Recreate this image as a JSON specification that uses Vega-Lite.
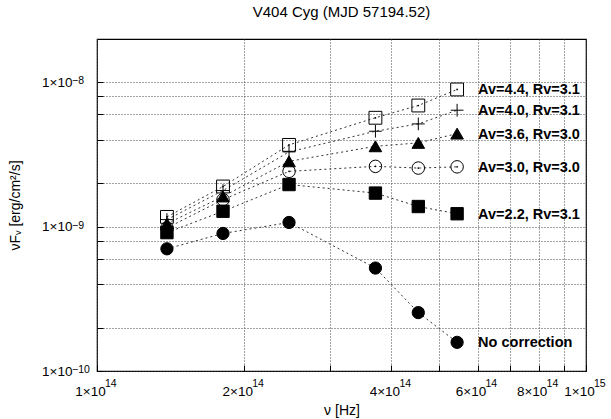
{
  "$schema": "https://vega.github.io/schema/vega-lite/v6.json",
  "width": 489,
  "height": 332,
  "autosize": "none",
  "padding": {"left": 97, "top": 39, "right": 25, "bottom": 48},
  "background": "white",
  "title": {"text": "V404 Cyg (MJD 57194.52)", "font": "Liberation Sans", "fontSize": 15, "fontWeight": "normal", "color": "black", "offset": 19, "anchor": "middle"},
  "config": {
    "view": {"stroke": "black", "strokeWidth": 1.2},
    "axis": {"labelFont": "Liberation Sans", "titleFont": "Liberation Sans", "labelFontSize": 13.5, "titleFontSize": 14, "titleFontWeight": "normal", "labelColor": "black", "titleColor": "black", "domain": false, "tickColor": "black", "gridColor": "#444", "gridDash": [1, 2], "gridWidth": 1, "gridOpacity": 1}
  },
  "datasets": {
    "pts": [
      {"series": "No correction", "nu": 1.39e14, "f": 7.03e-10},
      {"series": "No correction", "nu": 1.81e14, "f": 8.98e-10},
      {"series": "No correction", "nu": 2.47e14, "f": 1.07e-9},
      {"series": "No correction", "nu": 3.71e14, "f": 5.17e-10},
      {"series": "No correction", "nu": 4.54e14, "f": 2.54e-10},
      {"series": "No correction", "nu": 5.45e14, "f": 1.58e-10},
      {"series": "Av=2.2, Rv=3.1", "nu": 1.39e14, "f": 9.1e-10},
      {"series": "Av=2.2, Rv=3.1", "nu": 1.81e14, "f": 1.28e-9},
      {"series": "Av=2.2, Rv=3.1", "nu": 2.47e14, "f": 1.96e-9},
      {"series": "Av=2.2, Rv=3.1", "nu": 3.71e14, "f": 1.71e-9},
      {"series": "Av=2.2, Rv=3.1", "nu": 4.54e14, "f": 1.38e-9},
      {"series": "Av=2.2, Rv=3.1", "nu": 5.45e14, "f": 1.23e-9},
      {"series": "Av=3.0, Rv=3.0", "nu": 1.39e14, "f": 9.8e-10},
      {"series": "Av=3.0, Rv=3.0", "nu": 1.81e14, "f": 1.54e-9},
      {"series": "Av=3.0, Rv=3.0", "nu": 2.47e14, "f": 2.42e-9},
      {"series": "Av=3.0, Rv=3.0", "nu": 3.71e14, "f": 2.62e-9},
      {"series": "Av=3.0, Rv=3.0", "nu": 4.54e14, "f": 2.55e-9},
      {"series": "Av=3.0, Rv=3.0", "nu": 5.45e14, "f": 2.6e-9},
      {"series": "Av=3.6, Rv=3.0", "nu": 1.39e14, "f": 1.05e-9},
      {"series": "Av=3.6, Rv=3.0", "nu": 1.81e14, "f": 1.62e-9},
      {"series": "Av=3.6, Rv=3.0", "nu": 2.47e14, "f": 2.84e-9},
      {"series": "Av=3.6, Rv=3.0", "nu": 3.71e14, "f": 3.61e-9},
      {"series": "Av=3.6, Rv=3.0", "nu": 4.54e14, "f": 3.81e-9},
      {"series": "Av=3.6, Rv=3.0", "nu": 5.45e14, "f": 4.42e-9},
      {"series": "Av=4.0, Rv=3.1", "nu": 1.39e14, "f": 1.12e-9},
      {"series": "Av=4.0, Rv=3.1", "nu": 1.81e14, "f": 1.78e-9},
      {"series": "Av=4.0, Rv=3.1", "nu": 2.47e14, "f": 3.3e-9},
      {"series": "Av=4.0, Rv=3.1", "nu": 3.71e14, "f": 4.59e-9},
      {"series": "Av=4.0, Rv=3.1", "nu": 4.54e14, "f": 5.16e-9},
      {"series": "Av=4.0, Rv=3.1", "nu": 5.45e14, "f": 6.42e-9},
      {"series": "Av=4.4, Rv=3.1", "nu": 1.39e14, "f": 1.17e-9},
      {"series": "Av=4.4, Rv=3.1", "nu": 1.81e14, "f": 1.9e-9},
      {"series": "Av=4.4, Rv=3.1", "nu": 2.47e14, "f": 3.69e-9},
      {"series": "Av=4.4, Rv=3.1", "nu": 3.71e14, "f": 5.69e-9},
      {"series": "Av=4.4, Rv=3.1", "nu": 4.54e14, "f": 6.92e-9},
      {"series": "Av=4.4, Rv=3.1", "nu": 5.45e14, "f": 8.94e-9}
    ],
    "xexp": [
      {"nu": 1e14, "f": 1e-10, "ex": "14"}, {"nu": 2e14, "f": 1e-10, "ex": "14"}, {"nu": 4e14, "f": 1e-10, "ex": "14"},
      {"nu": 6e14, "f": 1e-10, "ex": "14"}, {"nu": 8e14, "f": 1e-10, "ex": "14"}, {"nu": 1e15, "f": 1e-10, "ex": "15"}
    ],
    "yexp": [
      {"nu": 1e14, "f": 1e-10, "ex": "−10"}, {"nu": 1e14, "f": 1e-9, "ex": "−9"}, {"nu": 1e14, "f": 1e-8, "ex": "−8"}
    ]
  },
  "data": {"name": "pts"},
  "encoding": {
    "x": {"field": "nu", "type": "quantitative",
      "scale": {"type": "log", "domain": [1e14, 1e15], "nice": false, "zero": false},
      "axis": {"title": "ν [Hz]", "values": [1e14, 2e14, 3e14, 4e14, 5e14, 6e14, 7e14, 8e14, 9e14, 1e15],
        "labelExpr": "abs(datum.value - 1e14) < 1e12 ? '1×10' : abs(datum.value - 2e14) < 1e12 ? '2×10' : abs(datum.value - 4e14) < 1e12 ? '4×10' : abs(datum.value - 6e14) < 1e12 ? '6×10' : abs(datum.value - 8e14) < 1e12 ? '8×10' : abs(datum.value - 1e15) < 1e12 ? '1×10' : ''",
        "tickSize": -6, "labelPadding": 19, "labelOffset": -7, "labelFlush": false, "labelOverlap": false, "titlePadding": 6}},
    "y": {"field": "f", "type": "quantitative",
      "scale": {"type": "log", "domain": [1e-10, 2e-8], "nice": false, "zero": false},
      "axis": {"title": "νFᵥ [erg/cm²/s]", "values": [1e-10, 2e-10, 4e-10, 6e-10, 8e-10, 1e-9, 2e-9, 4e-9, 6e-9, 8e-9, 1e-8],
        "labelExpr": "abs(log(datum.value)/log(10) + 10) < 0.01 ? '1×10' : abs(log(datum.value)/log(10) + 9) < 0.01 ? '1×10' : abs(log(datum.value)/log(10) + 8) < 0.01 ? '1×10' : ''",
        "tickSize": -6, "labelPadding": 31, "labelOverlap": false, "labelFlush": false, "titleX": -75, "titleY": 166, "titleAnchor": "middle"}}
  },
  "layer": [
    {"mark": {"type": "line", "color": "#333", "strokeWidth": 1, "strokeDash": [2, 3]},
     "encoding": {"detail": {"field": "series"}, "order": {"field": "nu"}}},
    {"mark": {"type": "point", "stroke": "black", "strokeWidth": 1, "opacity": 1, "fillOpacity": 1},
     "encoding": {
       "shape": {"field": "series", "legend": null, "scale": {"domain": ["No correction", "Av=2.2, Rv=3.1", "Av=3.0, Rv=3.0", "Av=3.6, Rv=3.0", "Av=4.0, Rv=3.1", "Av=4.4, Rv=3.1"], "range": ["circle", "square", "circle", "triangle-up", "M-1,0L1,0M0,-1L0,1", "square"]}},
       "fill": {"field": "series", "legend": null, "scale": {"domain": ["No correction", "Av=2.2, Rv=3.1", "Av=3.0, Rv=3.0", "Av=3.6, Rv=3.0", "Av=4.0, Rv=3.1", "Av=4.4, Rv=3.1"], "range": ["black", "black", "transparent", "black", "transparent", "transparent"]}},
       "size": {"field": "series", "type": "nominal", "legend": null, "scale": {"domain": ["No correction", "Av=2.2, Rv=3.1", "Av=3.0, Rv=3.0", "Av=3.6, Rv=3.0", "Av=4.0, Rv=3.1", "Av=4.4, Rv=3.1"], "range": [150, 165, 130, 120, 140, 140]}}
     }},
    {"transform": [{"filter": {"field": "series", "oneOf": ["Av=3.0, Rv=3.0", "Av=4.4, Rv=3.1"]}}],
     "mark": {"type": "point", "filled": true, "color": "black", "size": 3, "opacity": 1}},
    {"transform": [{"filter": "datum.nu > 5e14"}],
     "mark": {"type": "text", "align": "left", "baseline": "middle", "dx": 21, "dy": 1, "font": "Liberation Sans", "fontSize": 14.5, "fontWeight": "bold", "color": "black"},
     "encoding": {"text": {"field": "series"}}},
    {"data": {"name": "xexp"},
     "mark": {"type": "text", "align": "left", "baseline": "alphabetic", "dx": 8, "dy": 16, "font": "Liberation Sans", "fontSize": 10.5, "color": "black", "clip": false},
     "encoding": {"text": {"field": "ex", "type": "nominal"}}},
    {"data": {"name": "yexp"},
     "mark": {"type": "text", "align": "left", "baseline": "alphabetic", "dx": -25, "dy": 2, "font": "Liberation Sans", "fontSize": 10.5, "color": "black", "clip": false},
     "encoding": {"text": {"field": "ex", "type": "nominal"}}}
  ]
}
